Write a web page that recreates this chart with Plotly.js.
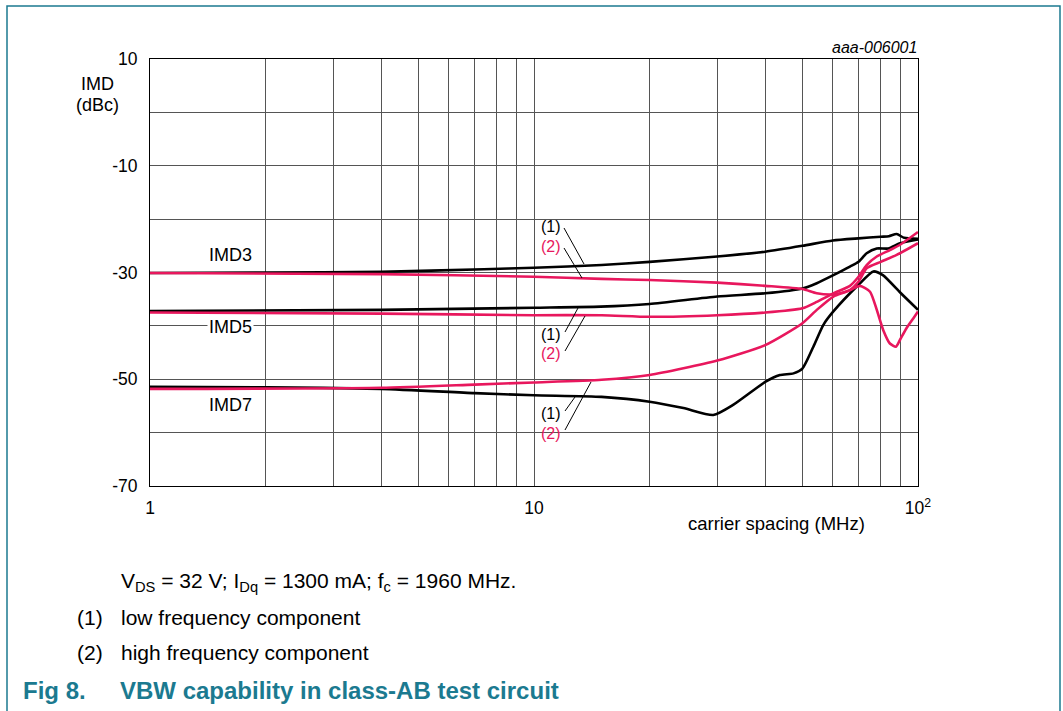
<!DOCTYPE html>
<html><head><meta charset="utf-8">
<script src="https://cdn.plot.ly/plotly-3.0.1.min.js"></script>
<style>html,body{margin:0;padding:0;background:#fff;}#chart{width:1063px;height:711px;}</style>
</head><body><div id="chart"></div>
<script>
// ---- data ----
const imd3LowF  = [1, 2, 4, 7.4, 10, 15, 20, 30, 40, 50, 60, 70, 80, 84, 88, 92, 100];
const imd3LowV  = [-30.1, -30.0, -29.85, -29.4, -29.1, -28.6, -28.0, -27.0, -26.1, -25.0, -24.0, -23.6, -23.3, -23.2, -22.8, -23.5, -23.7];
const imd3HighF = [1, 4, 10, 15, 20, 30, 40, 50, 54.5, 60.2, 66.5, 70.6, 75, 78.1, 81.2, 84.5, 87.6, 89.8, 93.4, 97.2, 100];
const imd3HighV = [-30.1, -30.3, -30.8, -31.2, -31.4, -31.9, -32.5, -33.1, -33.9, -34.1, -33.3, -32.5, -33.6, -37.0, -40.8, -43.3, -43.9, -42.6, -40.4, -38.6, -37.3];
const imd5LowF  = [1, 4, 10, 14.9, 20, 30, 40, 50, 54.5, 60.2, 66.5, 70, 73.5, 78.1, 83.7, 89.8, 100];
const imd5LowV  = [-37.2, -37.0, -36.6, -36.4, -35.9, -34.5, -33.9, -33.0, -32.0, -30.5, -28.9, -28.0, -26.4, -25.5, -25.5, -24.5, -23.8];
const imd5HighF = [1, 4, 10, 15, 20, 30, 40, 50, 54.5, 60.2, 66.5, 70, 73.5, 78.1, 84.5, 89.8, 100];
const imd5HighV = [-37.5, -37.7, -38.0, -38.0, -38.3, -38.0, -37.5, -36.7, -35.5, -33.9, -32.5, -30.8, -28.6, -27.0, -25.8, -24.8, -22.4];
const imd7LowF  = [1, 2, 4, 7, 10, 15, 20, 24.5, 29.3, 33, 40, 43.7, 47.4, 50, 53.4, 56.7, 60.2, 70, 76.5, 81, 90, 100];
const imd7LowV  = [-51.4, -51.5, -51.8, -52.6, -53.0, -53.3, -54.2, -55.4, -56.7, -54.8, -50.5, -49.2, -48.9, -48.0, -43.9, -39.8, -37.3, -32.3, -29.8, -30.5, -33.8, -37.0];
const imd7HighF = [1, 4, 7, 10, 15, 20, 30, 40, 50, 54.5, 60.2, 66.5, 70, 73.5, 80, 88, 100];
const imd7HighV = [-51.8, -51.6, -51.0, -50.6, -50.1, -49.2, -46.5, -43.6, -39.5, -37.0, -34.5, -33.3, -31.7, -29.2, -28.0, -26.7, -24.5];

const xTickVals  = [1, 10, 100];
const xTickText  = ['1', '10', '10<sup>2</sup>'];
const xMinorVals = [2,3,4,5,6,7,8,9,20,30,40,50,60,70,80,90];
const yTickVals  = [-70, -50, -30, -10, 10];
const yTickText  = ['-70', '-50', '-30', '-10', '10'];
const yMinorVals = [-60, -40, -20, 0];

// ---- layout helpers (pixel -> paper) ----
const L=150, R=918, T=59, B=486;
const px = X => (X-L)/(R-L);
const py = Y => (B-Y)/(B-T);
const BLACK='#000000', RED='#e8175d', TEAL='#1b7a90', GRID='#555555';
const FONT='Liberation Sans, Arial, sans-serif';

function tr(x,y,c,name){return {x:x,y:y,type:'scatter',mode:'lines',name:name,line:{color:c,width:2.6,shape:'spline',smoothing:0.6},hoverinfo:'skip'};}
const data=[
  tr(imd3LowF,imd3LowV,BLACK,'IMD3 (1)'),
  tr(imd5LowF,imd5LowV,BLACK,'IMD5 (1)'),
  tr(imd7LowF,imd7LowV,BLACK,'IMD7 (1)'),
  tr(imd3HighF,imd3HighV,RED,'IMD3 (2)'),
  tr(imd5HighF,imd5HighV,RED,'IMD5 (2)'),
  tr(imd7HighF,imd7HighV,RED,'IMD7 (2)')
];

function txt(X,Y,t,opts){return Object.assign({xref:'paper',yref:'paper',x:px(X),y:py(Y),text:t,showarrow:false,xanchor:'center',yanchor:'middle',font:{family:FONT,size:18,color:'#000'}},opts||{});}
const BODY={family:FONT,size:21,color:'#000'};
const ann=[
  txt(919,48,'<i>aaa-006001</i>',{xanchor:'right',font:{family:FONT,size:16,color:'#000'}}),
  txt(97,84,'IMD'),
  txt(97,105,'(dBc)'),
  txt(776,523,'carrier spacing (MHz)',{font:{family:FONT,size:18.5,color:'#000'}}),
  txt(230,255,'IMD3'),
  txt(230,327,'IMD5',{bgcolor:'#ffffff',borderpad:1}),
  txt(230,405,'IMD7'),
  txt(551,226,'(1)',{font:{family:FONT,size:16,color:BLACK}}),
  txt(551,246,'(2)',{font:{family:FONT,size:16,color:RED}}),
  txt(551,334,'(1)',{font:{family:FONT,size:16,color:BLACK}}),
  txt(551,353,'(2)',{font:{family:FONT,size:16,color:RED}}),
  txt(551,413,'(1)',{font:{family:FONT,size:16,color:BLACK}}),
  txt(551,433,'(2)',{font:{family:FONT,size:16,color:RED}}),
  txt(119,582,'V<sub>DS</sub> = 32 V; I<sub>Dq</sub> = 1300 mA; f<sub>c</sub> = 1960 MHz.',{xanchor:'left',font:BODY}),
  txt(75,617,'(1)',{xanchor:'left',font:BODY}),
  txt(119,617,'low frequency component',{xanchor:'left',font:BODY}),
  txt(75,652,'(2)',{xanchor:'left',font:BODY}),
  txt(119,652,'high frequency component',{xanchor:'left',font:BODY}),
  txt(21,690,'<b>Fig 8.</b>',{xanchor:'left',font:{family:FONT,size:24,color:TEAL}}),
  txt(118,690,'<b>VBW capability in class-AB test circuit</b>',{xanchor:'left',font:{family:FONT,size:24,color:TEAL}})
];

function seg(X0,Y0,X1,Y1){return {type:'line',xref:'paper',yref:'paper',x0:px(X0),y0:py(Y0),x1:px(X1),y1:py(Y1),line:{color:'#000',width:1}};}
const shapes=[
  {type:'path',xref:'paper',yref:'paper',path:`M ${px(7)} ${py(720)} L ${px(7)} ${py(6)} L ${px(1060)} ${py(6)} L ${px(1060)} ${py(720)}`,line:{color:TEAL,width:1.5}},
  seg(564,228,584,264), seg(564,248,582,278),
  seg(565,332,578,308), seg(565,351,585,316),
  seg(565,411,575,397), seg(565,430,591,382)
];

const layout={
  width:1063,height:711,
  margin:{l:L,r:1063-R,t:T,b:711-B,pad:0},
  paper_bgcolor:'#fff',plot_bgcolor:'#fff',showlegend:false,
  font:{family:FONT,size:17,color:'#000'},
  xaxis:{type:'log',range:[0,2],tickmode:'array',tickvals:xTickVals,ticktext:xTickText,showgrid:true,gridcolor:GRID,gridwidth:1,
    minor:{tickmode:'array',tickvals:xMinorVals,showgrid:true,gridcolor:GRID,gridwidth:1,ticks:''},
    showline:true,linecolor:'#000',linewidth:1,mirror:true,ticks:'',zeroline:false,ticklabelstandoff:6,
    tickfont:{family:FONT,size:17.5,color:'#000'}},
  yaxis:{range:[-70,10],tickmode:'array',tickvals:yTickVals,ticktext:yTickText,showgrid:true,gridcolor:GRID,gridwidth:1,
    minor:{tickmode:'array',tickvals:yMinorVals,showgrid:true,gridcolor:GRID,gridwidth:1,ticks:''},
    showline:true,linecolor:'#000',linewidth:1,mirror:true,ticks:'',zeroline:false,ticklabelstandoff:8,
    tickfont:{family:FONT,size:17.5,color:'#000'}},
  annotations:ann,shapes:shapes
};
Plotly.newPlot('chart',data,layout,{staticPlot:true,displayModeBar:false});
</script></body></html>
